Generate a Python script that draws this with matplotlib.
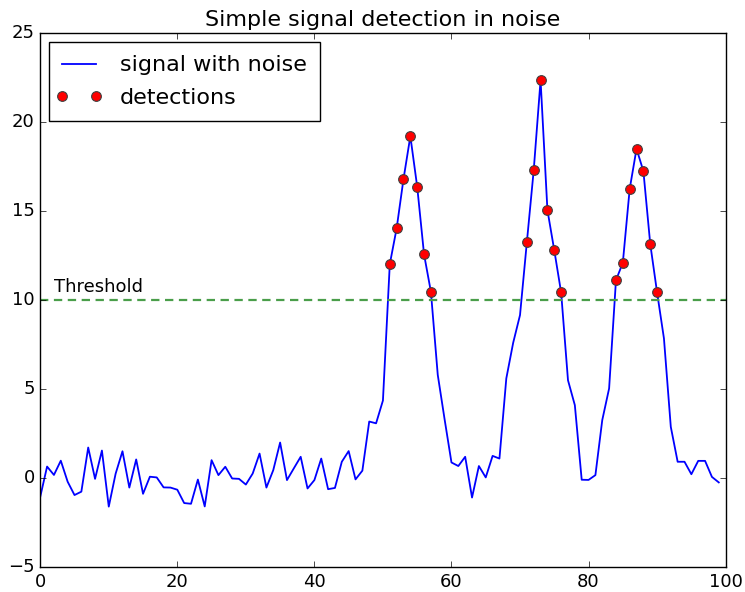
import numpy as np
import matplotlib
matplotlib.use("Agg")
from matplotlib import pyplot as plt
from matplotlib.legend_handler import HandlerLine2D

# signal values, sample index 0..99
signal = [-1.05, 0.65, 0.18, 0.98, -0.2, -0.95, -0.76, 1.72, -0.04, 1.55,
          -1.6, 0.25, 1.51, -0.53, 1.05, -0.88, 0.08, 0.04, -0.52, -0.53,
          -0.65, -1.4, -1.44, -0.08, -1.59, 1.01, 0.17, 0.64, -0.02, -0.04,
          -0.36, 0.26, 1.38, -0.53, 0.45, 2.0, -0.11, 0.55, 1.2, -0.58,
          -0.11, 1.1, -0.62, -0.55, 0.92, 1.52, -0.07, 0.42, 3.18, 3.08,
          4.36, 12.02, 14.03, 16.8, 19.21, 16.37, 12.57, 10.47, 5.8, 3.3,
          0.88, 0.68, 1.2, -1.09, 0.68, 0.04, 1.25, 1.1, 5.6, 7.6,
          9.16, 13.26, 17.3, 22.36, 15.06, 12.8, 10.43, 5.5, 4.1, -0.09,
          -0.1, 0.17, 3.26, 5.04, 11.12, 12.1, 16.24, 18.5, 17.25, 13.16,
          10.43, 7.85, 2.88, 0.92, 0.92, 0.22, 0.97, 0.97, 0.07, -0.24]
threshold = 10
x_ticks = [0, 20, 40, 60, 80, 100]
y_ticks = [-5, 0, 5, 10, 15, 20, 25]

signal = np.array(signal)
t = np.arange(len(signal))
detected = signal > threshold

plt.style.use("classic")
fig = plt.figure(figsize=(7.45, 5.92), dpi=100, facecolor="white")
ax = fig.add_axes([0.054, 0.042, 0.92, 0.902])

line, = ax.plot(t, signal, "b-", lw=1.3, label="signal with noise")
dots, = ax.plot(t[detected], signal[detected], "ro", ms=7, mec="0.25",
                mew=0.8, label="detections")
ax.axhline(threshold, color="#4a9e4a", ls="--", lw=1.6, dashes=(6, 4))
ax.text(2, 10.45, "Threshold", fontsize=13)

ax.set_xlim(0, 100)
ax.set_ylim(-5, 25)
ax.set_xticks(x_ticks)
ax.set_yticks(y_ticks)
ax.tick_params(labelsize=13)
ax.set_title("Simple signal detection in noise", fontsize=16)
ax.legend(loc="upper left", fontsize=16, numpoints=2, handlelength=1.5,
          handletextpad=1.1, labelspacing=0.55, borderpad=0.6,
          borderaxespad=0.4,
          handler_map={line: HandlerLine2D(marker_pad=0),
                       dots: HandlerLine2D(marker_pad=0)})

fig.savefig("out.png", dpi=100, facecolor="white")
